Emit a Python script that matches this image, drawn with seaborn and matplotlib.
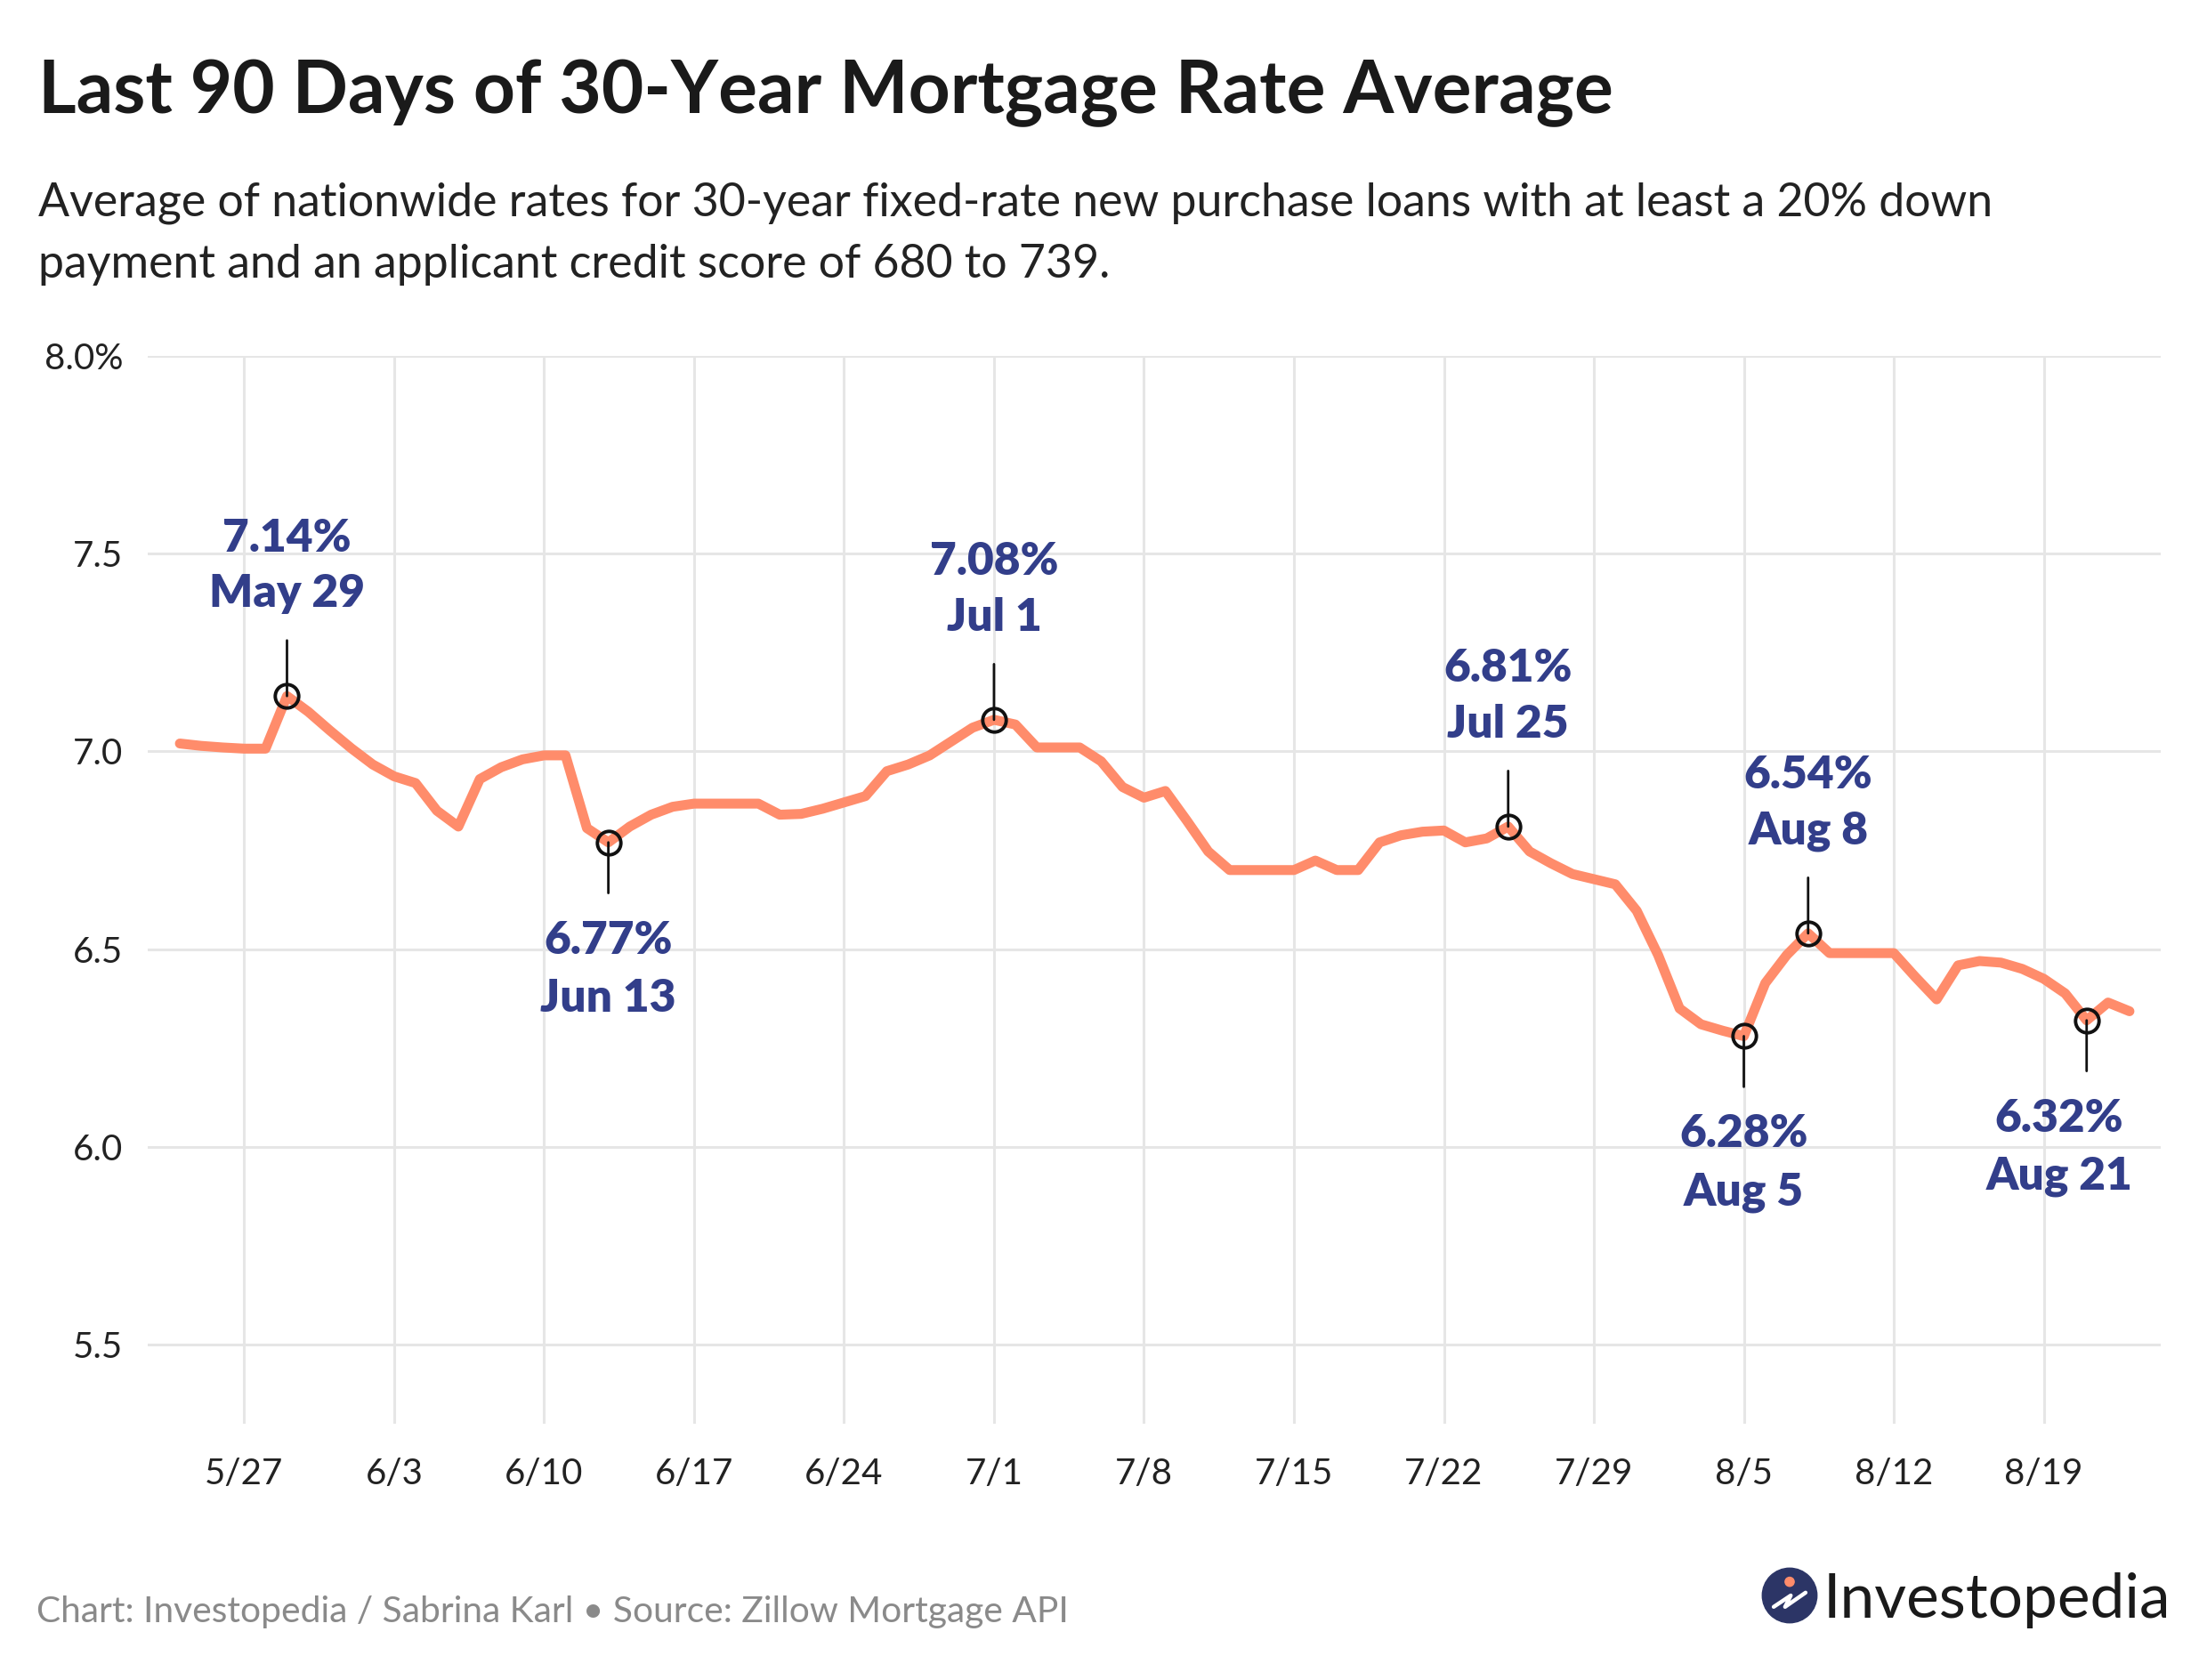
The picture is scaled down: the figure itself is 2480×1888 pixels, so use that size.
import matplotlib
matplotlib.use("Agg")
import pandas as pd
import matplotlib.pyplot as plt
from matplotlib.patches import Circle
import seaborn as sns

# ---- data ----
start_date = "2024-05-24"
rates = [
    7.02, 7.014, 7.01, 7.007, 7.007,
    7.14, 7.10, 7.053, 7.008, 6.967, 6.937, 6.92, 6.85, 6.81, 6.93,
    6.96, 6.98, 6.99, 6.99, 6.806, 6.77, 6.81, 6.84, 6.86,
    6.868, 6.868, 6.868, 6.868, 6.84, 6.842, 6.855, 6.871, 6.887, 6.95,
    6.967, 6.99, 7.025, 7.06, 7.08, 7.068, 7.01, 7.01, 7.01, 6.975,
    6.91, 6.883, 6.90, 6.825,
    6.747, 6.70, 6.70, 6.70, 6.70, 6.724, 6.70, 6.70, 6.77, 6.788,
    6.797, 6.80, 6.77, 6.78, 6.81, 6.747, 6.717, 6.69, 6.677, 6.664,
    6.597, 6.485, 6.35, 6.31,
    6.294, 6.28, 6.414, 6.485, 6.54, 6.49, 6.49, 6.49, 6.49, 6.43,
    6.373, 6.459, 6.47, 6.466, 6.45, 6.425, 6.388, 6.32, 6.365, 6.343,
]

ann_dates = ["2024-05-29", "2024-06-13", "2024-07-01", "2024-07-25",
             "2024-08-05", "2024-08-08", "2024-08-21"]
ann_values = [7.14, 6.77, 7.08, 6.81, 6.28, 6.54, 6.32]
ann_labels = ["May 29", "Jun 13", "Jul 1", "Jul 25", "Aug 5", "Aug 8", "Aug 21"]
ann_side = ["above", "below", "above", "above", "below", "above", "below"]

tick_dates = pd.date_range("2024-05-27", "2024-08-19", freq="7D")
y_ticks = [5.5, 6.0, 6.5, 7.0, 7.5, 8.0]
y_tick_labels = ["5.5", "6.0", "6.5", "7.0", "7.5", "8.0%"]

TITLE = "Last 90 Days of 30-Year Mortgage Rate Average"
SUB_1 = ("Average of nationwide rates for 30-year fixed-rate new purchase loans "
         "with at least a 20% down")
SUB_2 = "payment and an applicant credit score of 680 to 739."
FOOTER = "Chart: Investopedia / Sabrina Karl \u2022 Source: Zillow Mortgage API"

LINE_COLOR = "#FF8C6B"
LABEL_COLOR = "#323E8A"
GRID_COLOR = "#E6E6E6"
TEXT_COLOR = "#222222"

df = pd.DataFrame({"date": pd.date_range(start_date, periods=len(rates), freq="D"),
                   "rate": rates})

sns.set_style("white")
plt.rcParams["font.family"] = ["Lato", "DejaVu Sans"]

W, H = 2480, 1888
fig = plt.figure(figsize=(W / 100, H / 100), dpi=100)
fig.patch.set_facecolor("white")

# plot area in pixels: x 166..2428, y 400..1600
ax = fig.add_axes([166 / W, 1 - 1600 / H, (2428 - 166) / W, (1600 - 400) / H])

sns.lineplot(data=df, x="date", y="rate", ax=ax, color=LINE_COLOR,
             linewidth=8, solid_capstyle="round", solid_joinstyle="round",
             zorder=3)

ax.set_xlim(pd.Timestamp("2024-05-22 12:00"), pd.Timestamp("2024-08-24 11:00"))
ax.set_ylim(5.3, 8.0)
ax.set_xticks(tick_dates)
ax.set_xticklabels([f"{d.month}/{d.day}" for d in tick_dates])
ax.set_yticks(y_ticks)
ax.set_yticklabels(y_tick_labels)
ax.set_xlabel("")
ax.set_ylabel("")
ax.grid(True, color=GRID_COLOR, linewidth=2.2, zorder=0)
ax.set_axisbelow(True)
for s in ax.spines.values():
    s.set_visible(False)
ax.tick_params(axis="both", length=0, labelsize=29, colors=TEXT_COLOR)
ax.tick_params(axis="x", pad=27)
ax.tick_params(axis="y", pad=20)

# annotations
for dt, val, lab, side in zip(ann_dates, ann_values, ann_labels, ann_side):
    x = pd.Timestamp(dt)
    y = df.loc[df["date"] == x, "rate"].iloc[0]
    dx = -22 if lab == "Aug 21" else 0
    if side == "above":
        stick, v_off, d_off = 45, 117, 72
    else:
        stick, v_off, d_off = -41, -90, -137
    ax.annotate("", xy=(x, y), xycoords="data", xytext=(0, stick),
                textcoords="offset points",
                arrowprops=dict(arrowstyle="-", color="#111111", lw=2.0,
                                shrinkA=0, shrinkB=0), zorder=4)
    ax.plot([x], [y], marker="o", ms=19, mfc="none", mec="#111111",
            mew=2.8, zorder=5)
    ax.annotate(f"{val:.2f}%", xy=(x, y), xytext=(dx, v_off),
                textcoords="offset points", ha="center", va="baseline",
                fontsize=37, fontweight="heavy", color=LABEL_COLOR)
    ax.annotate(lab, xy=(x, y), xytext=(dx, d_off),
                textcoords="offset points", ha="center", va="baseline",
                fontsize=37, fontweight="heavy", color=LABEL_COLOR)

# title block
fig.text(43 / W, 1 - 127 / H, TITLE, fontsize=59, fontweight="bold",
         color="#1A1A1A", va="baseline", ha="left")
fig.text(43 / W, 1 - 243 / H, SUB_1, fontsize=37.4, color=TEXT_COLOR,
         va="baseline", ha="left")
fig.text(43 / W, 1 - 312 / H, SUB_2, fontsize=37.4, color=TEXT_COLOR,
         va="baseline", ha="left")

# footer
fig.text(41 / W, 1 - 1823 / H, FOOTER, fontsize=29.3, color="#8A8A8A",
         va="baseline", ha="left")

# logo
lax = fig.add_axes([1979 / W, 1 - 1825 / H, 64 / W, 64 / H])
lax.set_xlim(0, 1)
lax.set_ylim(0, 1)
lax.set_aspect("equal")
lax.axis("off")
lax.add_patch(Circle((0.5, 0.5), 0.48, color="#2C3566"))
lax.plot([0.22, 0.52, 0.42, 0.78], [0.3, 0.5, 0.3, 0.55], color="white",
         lw=3.2, solid_capstyle="round", solid_joinstyle="round")
lax.add_patch(Circle((0.5, 0.74), 0.08, color="#FF8C6B"))
fig.text(2049 / W, 1 - 1818 / H, "Investopedia", fontsize=50,
         color="#1A1A1A", va="baseline", ha="left")

fig.savefig("out.png", dpi=100, facecolor="white")
